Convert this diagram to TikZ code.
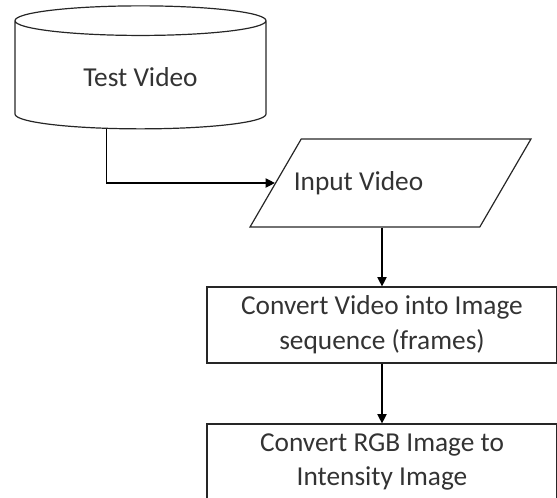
\documentclass[tikz,border=0pt]{standalone}
\usepackage{fontspec}
\setmainfont{Carlito}
\usetikzlibrary{shapes.geometric,arrows.meta}

\tikzset{
  flow/.style={draw=black!85, line width=0.9pt, text=black!80, font=\fontsize{20.5}{26}\selectfont},
  store/.style={flow, cylinder, shape border rotate=90, aspect=0.24, minimum width=188.25pt, minimum height=92.25pt},
  io/.style={flow, trapezium, trapezium stretches=true, trapezium left angle=74, trapezium right angle=106, minimum width=210.75pt, minimum height=66pt},
  proc/.style={flow, rectangle, align=center, minimum width=262.5pt, minimum height=57pt},
  link/.style={draw=black, line width=0.9pt, -{Triangle[length=7pt,width=7pt]}}
}

\begin{document}
\begin{tikzpicture}[x=0.75pt,y=-0.75pt]
	\useasboundingbox (0,0) rectangle (557,497);
	\node[store] (tv) at (140.5,77) {Test Video};
	\node[io, label={[flow, draw=none, xshift=-24pt]center:Input Video}] (in) at (390.5,183) {};
	\node[proc] (fr) at (382,325) {Convert Video into Image\\sequence (frames)};
	\node[proc] (gr) at (382,462) {Convert RGB Image to\\Intensity Image};
	\draw[link] ([xshift=-25.5pt]tv.south) |- (in);
	\draw[link] (fr.north |- in.south) -- (fr.north);
	\draw[link] (fr) -- (gr);
\end{tikzpicture}
\end{document}
